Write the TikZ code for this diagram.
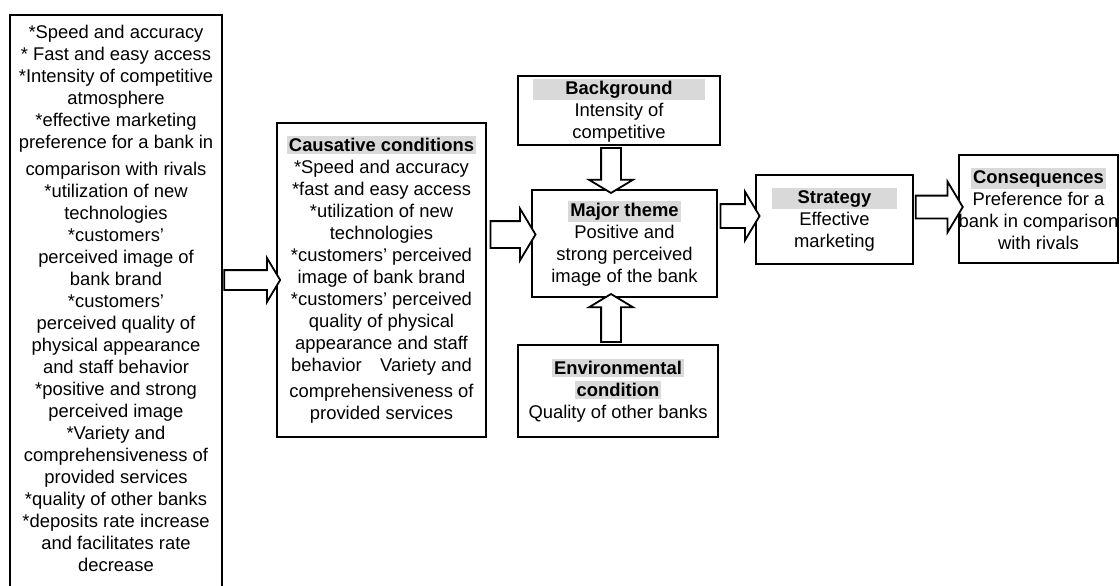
\documentclass[tikz,border=0pt]{standalone}
\usepackage{fontspec}
\setmainfont{Liberation Sans}
\usepackage{xcolor}
\usetikzlibrary{calc,positioning,shapes.arrows}
\definecolor{bargray}{HTML}{D9D9D9}
\newcommand{\boxtitle}[2][0pt]{{\setlength{\fboxsep}{1pt}\colorbox{bargray}{\hspace*{#1}\textbf{#2}\hspace*{#1}}}}
\tikzset{
  textfont/.style={font=\fontsize{9.2}{11}\selectfont},
  stagebox/.style={draw,line width=1pt,fill=white,align=center,inner sep=0pt,textfont},
  fatarrow/.style={single arrow,draw,fill=white,line width=0.9pt,inner xsep=0pt,inner ysep=4.5pt,minimum width=0pt,single arrow tip angle=118,single arrow head extend=6pt}
}

\begin{document}
\begin{tikzpicture}[x=0.5pt,y=-0.5pt]
  \useasboundingbox (0,0) rectangle (1120,585);
  \node[textfont,align=center,anchor=north,minimum width=106pt,inner xsep=0pt,inner ysep=5pt] (factors) at (116,15) {*Speed and accuracy\\ * Fast and easy access\\ *Intensity of competitive\\ atmosphere\\ *effective marketing\\ preference for a bank in\\[2.5pt] comparison with rivals\\ *utilization of new\\ technologies\\ *customers'\\ perceived image of\\ bank brand\\ *customers'\\ perceived quality of\\ physical appearance\\ and staff behavior\\ *positive and strong\\ perceived image\\ *Variety and\\ comprehensiveness of\\ provided services\\ *quality of other banks\\ *deposits rate increase\\ and facilitates rate\\ decrease};
  \draw[line width=1pt] ([yshift=-300pt]factors.north west) -- (factors.north west) -- (factors.north east) -- ([yshift=-300pt]factors.north east);
  \node[stagebox,minimum width=104.5pt,minimum height=157pt] (causes) at (381.5,280) {\boxtitle{Causative conditions}\\ *Speed and accuracy\\ *fast and easy access\\ *utilization of new\\ technologies\\ *customers' perceived\\ image of bank brand\\ *customers' perceived\\ quality of physical\\ appearance and staff\\ behavior\quad Variety and\\[2pt] comprehensiveness of\\ provided services};
  \node[stagebox,minimum width=101pt,minimum height=34.5pt] (background) at (619,110.5) {\boxtitle[15pt]{Background}\\ Intensity of\\ competitive};
  \node[stagebox,minimum width=92.5pt,minimum height=53.5pt] (theme) at (624.5,243.5) {\boxtitle{Major theme}\\ Positive and\\ strong perceived\\ image of the bank};
  \node[stagebox,minimum width=100pt,minimum height=46pt] (environ) at (618,391) {\boxtitle{Environmental}\\ \boxtitle{condition}\\ Quality of other banks};
  \node[stagebox,minimum width=78.5pt,minimum height=44.5pt] (strategy) at (834.5,219.5) {\boxtitle[12pt]{Strategy}\\ Effective\\ marketing};
  \node[stagebox,minimum width=78.5pt,minimum height=54pt] (outcome) at (1038.5,209) {\boxtitle{Consequences}\\ Preference for a\\ bank in comparison\\ with rivals};
  \node[fatarrow,minimum height=28pt] (toCauses) at ($(factors.east |- causes.west)!0.5!(causes.west)$) {};
  \node[fatarrow,minimum height=22.5pt,inner ysep=6.25pt,single arrow head extend=6.25pt] (toTheme) at ($(causes.east |- theme.west)!0.5!(theme.west) + (0,-9)$) {};
  \node[fatarrow,minimum height=19.5pt,inner ysep=5.5pt,single arrow head extend=6.25pt] (toStrategy) at ($(theme.east |- strategy.west)!0.5!(strategy.west) + (0,-3.5)$) {};
  \node[fatarrow,minimum height=23.5pt,inner ysep=5.25pt,single arrow head extend=7pt] (toOutcome) at ($(strategy.east |- outcome.west)!0.5!(outcome.west) + (0,-2)$) {};
  \node[fatarrow,rotate=-90,minimum height=22.5pt] (fromBackground) at ($(background.south -| theme.north)!0.5!(theme.north) + (-13.5,0)$) {};
  \node[fatarrow,rotate=90,minimum height=24pt] (fromEnviron) at ($(environ.north -| theme.south)!0.5!(theme.south) + (-13.5,0)$) {};
\end{tikzpicture}
\end{document}
